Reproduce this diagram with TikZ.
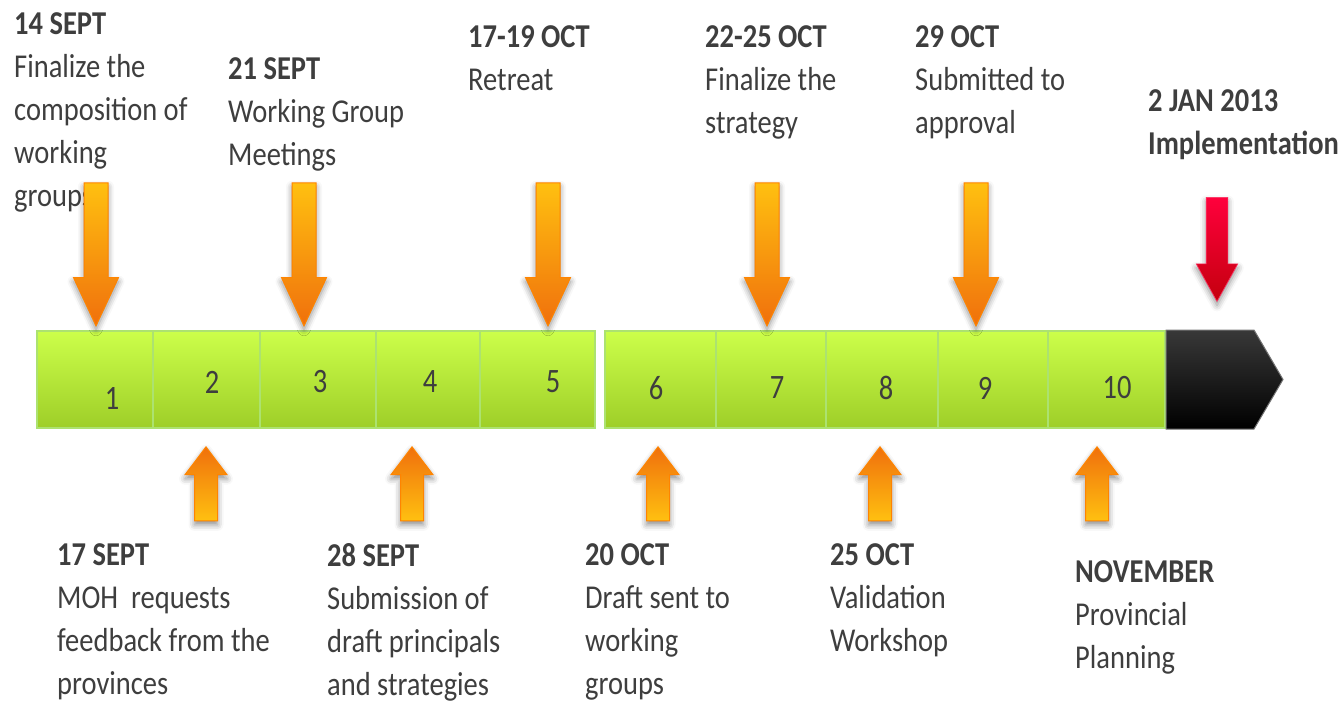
\documentclass[tikz,border=0pt]{standalone}
\usepackage{fontspec}
\setmainfont{Carlito}
\usetikzlibrary{shapes.arrows,shadows.blur}

\definecolor{limetop}{RGB}{204,255,74}
\definecolor{limebot}{RGB}{158,206,40}
\definecolor{limeedge}{RGB}{172,226,112}
\definecolor{ambertop}{RGB}{255,192,16}
\definecolor{amberbot}{RGB}{240,112,12}
\definecolor{amberedge}{RGB}{255,132,0}
\definecolor{alarmtop}{RGB}{255,0,60}
\definecolor{alarmbot}{RGB}{196,0,14}
\definecolor{ink}{RGB}{62,62,62}

\tikzset{
  seg/.style={draw=limeedge, line width=2pt, top color=limetop, bottom color=limebot,
    minimum height=97pt, inner sep=0pt},
  num/.style={font=\fontsize{28.5}{30}\selectfont, text=ink, inner sep=0pt, yscale=1.2, transform shape},
  note/.style={font=\fontsize{28.5}{36.75}\selectfont, text=ink, align=left, anchor=north west,
    inner sep=0pt, yscale=1.17, transform shape},
  soft/.style={blur shadow={shadow xshift=0pt, shadow yshift=-4pt, shadow blur radius=6pt, shadow opacity=45}},
  downarr/.style={single arrow, rotate=-90, anchor=tip, draw=amberedge, line width=1pt,
    top color=ambertop, bottom color=amberbot, inner xsep=0pt, inner ysep=11.5pt,
    minimum height=143pt, single arrow head extend=10.5pt,
    single arrow tip angle=50, soft},
  uparr/.style={single arrow, rotate=90, anchor=tip, draw=amberedge, line width=1pt,
    top color=amberbot, bottom color=ambertop, inner xsep=0pt, inner ysep=11pt,
    minimum height=74pt, single arrow head extend=9.5pt,
    single arrow tip angle=74, soft},
  lastarr/.style={single arrow, rotate=-90, anchor=tip, draw=alarmtop!80!white, line width=0.6pt,
    top color=alarmtop, bottom color=alarmbot, inner xsep=0pt, inner ysep=10.5pt,
    minimum height=104pt, single arrow head extend=10pt,
    single arrow tip angle=58, soft}
}

\begin{document}
\begin{tikzpicture}[x=1pt, y=-1pt]
  \useasboundingbox (0,0) rectangle (1344,701);

  % timeline blocks
  \foreach \l/\r/\n in {37/153/1, 153/260/2, 260/376/3, 376/480/4, 480/595/5,
                        605/716/6, 716/826/7, 826/938/8, 938/1048/9, 1048/1165/10}
    \node[seg, minimum width={(\r-\l)*1pt}] (s\n) at ({(\l+\r)/2}, 379.5) {};

  % black end piece
  \coordinate (tip) at (1283,379.5);
  \shade[top color=black!78, bottom color=black, draw=black!55, line width=1pt]
    (s10.north east) -- ++(88,0) -- (tip) -- ([xshift=88pt]s10.south east)
    -- (s10.south east) -- cycle;

  \foreach \n/\x/\y in {1/112/398, 2/212/382, 3/320/382, 4/430/382, 5/553/382,
                        6/656/388, 7/777/388, 8/886/388, 9/985/388, 10/1117/388}
    \node[num] (n\n) at (\x,\y) {\n};

  % notes above
  \node[note] (t1) at (14,12) {\textbf{14 SEPT}\\Finalize the\\composition of\\working\\groups};
  \node[note] (t2) at (228,57) {\textbf{21 SEPT}\\Working Group\\Meetings};
  \node[note] (t3) at (468,25) {\textbf{17-19 OCT}\\Retreat};
  \node[note] (t4) at (705,25) {\textbf{22-25 OCT}\\Finalize the\\strategy};
  \node[note] (t5) at (915,25) {\textbf{29 OCT}\\Submitted to\\approval};
  \node[note] (t6) at (1148,89) {\textbf{2 JAN 2013}\\\textbf{Implementation}};

  % notes below
  \node[note] (b1) at (57,543) {\textbf{17 SEPT}\\MOH~ requests\\feedback from the\\provinces};
  \node[note] (b2) at (327,543) {\textbf{28 SEPT}\\Submission of\\draft principals\\and strategies};
  \node[note] (b3) at (585,543) {\textbf{20 OCT}\\Draft sent to\\working\\groups};
  \node[note] (b4) at (830,543) {\textbf{25 OCT}\\Validation\\Workshop};
  \node[note] (b5) at (1075,560) {\textbf{NOVEMBER}\\Provincial\\Planning};

  % markers
  \foreach \x [count=\i] in {96,304,548,767,976}
    \node[downarr] (d\i) at (\x,327) {};
  \foreach \x [count=\i] in {206,412,658,880,1097}
    \node[uparr] (u\i) at (\x,446) {};
  \node[lastarr] (go) at (1217,302) {};
\end{tikzpicture}
\end{document}
